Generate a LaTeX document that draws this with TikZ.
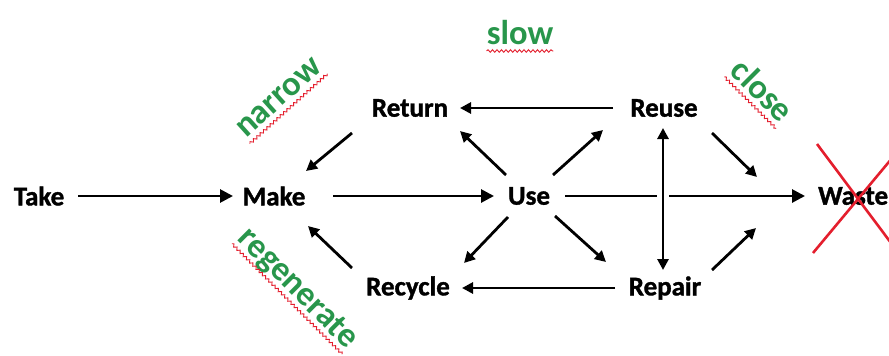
\documentclass[tikz,border=0pt]{standalone}
\usepackage{fontspec}
\setmainfont{Carlito}
\newfontfamily\heavyfont{Carlito Bold}[FakeBold=1.3]
\newfontfamily\greenfont{Carlito Bold}
\usetikzlibrary{arrows.meta,calc,decorations.pathmorphing}
\definecolor{lblgreen}{RGB}{40,150,75}
\definecolor{xred}{RGB}{228,30,45}
\begin{document}
\begin{tikzpicture}[x=1pt,y=-1pt,
  stage/.style={font=\heavyfont\fontsize{27}{32}\selectfont, inner sep=0pt, text=black},
  flow/.style={line width=2.8pt, -{Triangle[length=11pt,width=11pt]}},
  bigflow/.style={line width=2.8pt, -{Triangle[length=13pt,width=13pt]}},
  bothflow/.style={line width=2.8pt, {Triangle[length=11pt,width=11pt]}-{Triangle[length=11pt,width=11pt]}},
  green label/.style={font=\greenfont\fontsize{34.5}{40}\selectfont, text=lblgreen, inner sep=0pt},
  wavy/.style={draw=xred, line width=0.9pt, decorate, decoration={snake, amplitude=1.3pt, segment length=4.5pt}},
  cross/.style={draw=xred, line width=2.6pt}]
\useasboundingbox (0,0) rectangle (889,356);
\clip (0,0) rectangle (889,356);
\fill[white] (0,0) rectangle (889,356);

% stages
\node[stage] (Take) at (39,196) {Take};
\node[stage] (Make) at (274,196) {Make};
\node[stage] (Use) at (529,196) {Use};
\node[stage, anchor=west] (Waste) at (818,196) {Waste};
\node[stage] (Return) at (410,108) {Return};
\node[stage] (Reuse) at (664,108) {Reuse};
\node[stage] (Recycle) at (408,288) {Recycle};
\node[stage] (Repair) at (665,288) {Repair};

% connectors
\draw[bigflow] ($(Take)+(39,0)$) -- ($(Make)+(-41,0)$);
\draw[bigflow] ($(Make)+(59,0)$) -- ($(Use)+(-35,0)$);
\draw[bigflow] ($(Use)+(36,0)$) -- ($(Waste.west)+(-13,0)$);
\draw[flow] ($(Reuse)+(-51,0)$) -- ($(Return)+(50,0)$);
\draw[flow] ($(Repair)+(-50,0)$) -- ($(Recycle)+(54,0)$);
\draw[flow] ($(Return)+(-58,25)$) -- ($(Make)+(32,-25)$);
\draw[flow] ($(Recycle)+(-56,-20)$) -- ($(Make)+(34,30)$);
\draw[flow] ($(Use)+(-23,-21)$) -- ($(Return)+(50,23)$);
\draw[flow] ($(Use)+(24,-21)$) -- ($(Reuse)+(-61,22)$);
\draw[flow] ($(Use)+(-21,21)$) -- ($(Recycle)+(56,-25)$);
\draw[flow] ($(Use)+(26,20)$) -- ($(Repair)+(-59,-26)$);
\draw[flow] ($(Reuse)+(48,25)$) -- ($(Waste.west)+(-61,-19)$);
\draw[flow] ($(Repair)+(47,-18)$) -- ($(Waste.west)+(-62,32)$);
\draw[bothflow, preaction={draw=white, line width=12pt, shorten <=30pt, shorten >=30pt}]
  ($(Reuse)+(-1,20)$) -- ($(Repair)+(-2,-18)$);

% red cross over Waste
\coordinate (xc) at (858,199);
\draw[cross] ($(xc)+(-41,-55)$) -- ($(xc)+(45,60)$);
\draw[cross] ($(xc)+(-45,54)$) -- ($(xc)+(45,-54)$);

% green labels with wavy underline
\node[green label] (slow) at (520,33) {slow};
\draw[wavy] ($(slow.base west)!6pt!-90:(slow.base east)$) -- ($(slow.base east)!6pt!90:(slow.base west)$);
\node[green label, rotate=42] (narrow) at (279,98) {narrow};
\draw[wavy] ($(narrow.base west)!6pt!-90:(narrow.base east)$) -- ($(narrow.base east)!6pt!90:(narrow.base west)$);
\node[green label, rotate=-45] (regen) at (297,289) {regenerate};
\draw[wavy] ($(regen.base west)!6pt!-90:(regen.base east)$) -- ($(regen.base east)!6pt!90:(regen.base west)$);
\node[green label, rotate=-45] (close) at (763,90) {close};
\draw[wavy] ($(close.base west)!6pt!-90:(close.base east)$) -- ($(close.base east)!6pt!90:(close.base west)$);
\end{tikzpicture}
\end{document}
